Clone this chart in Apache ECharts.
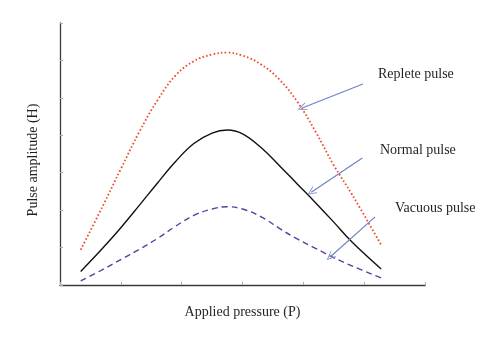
<!DOCTYPE html>
<html>
<head>
<meta charset="utf-8">
<script src="https://cdn.jsdelivr.net/npm/echarts@6/dist/echarts.min.js"></script>
<style>
  html, body { margin: 0; padding: 0; background: #fff; }
  #chart { width: 500px; height: 344px; }
</style>
</head>
<body>
<div id="chart"></div>
<script>
// Pressure (arbitrary units) vs. pulse amplitude for three pulse types
const pressure   = [0.34, 0.7, 1.0, 1.3, 1.6, 1.9, 2.2, 2.5, 2.75, 3.0, 3.3, 3.6, 3.9, 4.2, 4.5, 4.8, 5.28];
const repleteAmp = [0.94, 2.1, 3.1, 4.08, 4.93, 5.6, 5.98, 6.16, 6.21, 6.13, 5.9, 5.5, 4.9, 4.1, 3.2, 2.42, 1.07];
const normalAmp  = [0.36, 0.98, 1.53, 2.12, 2.72, 3.3, 3.78, 4.06, 4.14, 4.04, 3.68, 3.2, 2.7, 2.2, 1.68, 1.15, 0.43];
const vacuousAmp = [0.11, 0.41, 0.68, 0.95, 1.24, 1.57, 1.86, 2.03, 2.09, 2.03, 1.83, 1.52, 1.23, 0.98, 0.73, 0.51, 0.19];

// Pointer arrows: [fromX, fromY, toX, toY] in axis units
const repleteArrow = [4.98, 5.37, 3.98, 4.73];
const normalArrow  = [4.97, 3.39, 4.13, 2.48];
const vacuousArrow = [5.18, 1.82, 4.44, 0.75];

const labelNames = ['Replete pulse', 'Normal pulse', 'Vacuous pulse'];
const xTitle = 'Applied pressure (P)';
const yTitle = 'Pulse amplitude (H)';

const zip = (xs, ys) => xs.map((x, i) => [x, ys[i]]);
const serif = 'Liberation Serif';
const textColor = '#231f20';
const arrowColor = '#6f83c6';
const openHead = 'path://M0,10 L5,0 L10,10 L9,10 L5,2 L1,10 Z';

function arrowMark(a) {
  return {
    silent: true,
    animation: false,
    symbol: ['none', openHead],
    symbolSize: [8, 9],
    label: { show: false },
    lineStyle: { color: arrowColor, width: 1.2, type: 'solid' },
    data: [[{ coord: [a[0], a[1]] }, { coord: [a[2], a[3]] }]]
  };
}

const chart = echarts.init(document.getElementById('chart'), null, { renderer: 'canvas' });

const axisCommon = {
  interval: 1,
  axisLine: { show: true, lineStyle: { color: '#3a3a3a', width: 1.3 } },
  axisTick: { show: true, inside: true, length: 3, lineStyle: { color: '#aaa' } },
  axisLabel: { show: false },
  splitLine: { show: false },
  nameLocation: 'middle'
};

chart.setOption({
  animation: false,
  backgroundColor: '#fff',
  grid: { left: 60, top: 23, right: 75, bottom: 59 },
  xAxis: Object.assign({}, axisCommon, {
    type: 'value', min: 0, max: 6, name: xTitle, nameGap: 20,
    nameTextStyle: { fontFamily: serif, fontSize: 14, color: textColor }
  }),
  yAxis: Object.assign({}, axisCommon, {
    type: 'value', min: 0, max: 7, name: yTitle, nameGap: 20,
    nameTextStyle: { fontFamily: serif, fontSize: 14, color: textColor, padding: [0, 12, 0, 0] }
  }),
  series: [
    {
      name: labelNames[0], type: 'line', smooth: 0.4, symbol: 'none',
      data: zip(pressure, repleteAmp),
      lineStyle: { color: '#f0492b', width: 1.8, type: [1.6, 2.2] },
      markLine: arrowMark(repleteArrow)
    },
    {
      name: labelNames[1], type: 'line', smooth: 0.4, symbol: 'none',
      data: zip(pressure, normalAmp),
      lineStyle: { color: '#111', width: 1.4 },
      markLine: arrowMark(normalArrow)
    },
    {
      name: labelNames[2], type: 'line', smooth: 0.4, symbol: 'none',
      data: zip(pressure, vacuousAmp),
      lineStyle: { color: '#5a3ea3', width: 1.4, type: [6, 4] },
      markLine: arrowMark(vacuousArrow)
    }
  ],
  graphic: [
    { type: 'text', left: 378, top: 67, style: { text: labelNames[0], font: '14px ' + serif, fill: textColor } },
    { type: 'text', left: 380, top: 143, style: { text: labelNames[1], font: '14px ' + serif, fill: textColor } },
    { type: 'text', left: 395, top: 201, style: { text: labelNames[2], font: '14px ' + serif, fill: textColor } }
  ]
});
</script>
</body>
</html>
